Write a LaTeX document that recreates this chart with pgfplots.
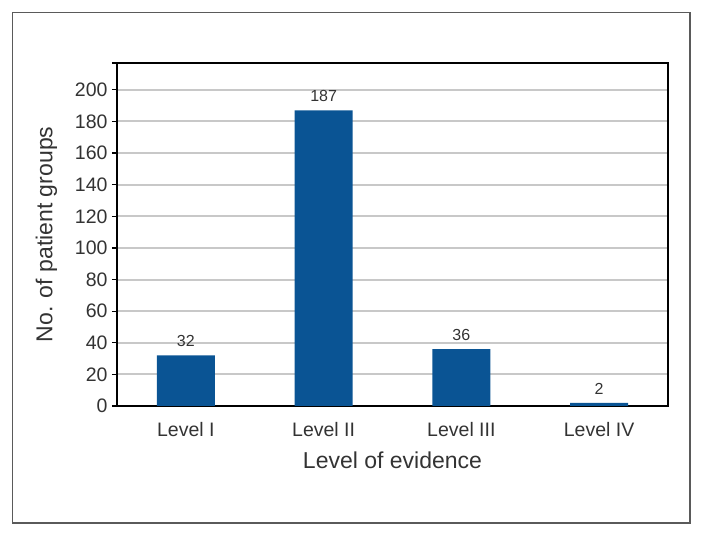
\documentclass[border=0pt]{standalone}
\usepackage{pgfplots}
\pgfplotsset{compat=1.18}
\usepackage{fontspec}
\setmainfont{Liberation Sans}
\definecolor{barblue}{HTML}{0A5494}
\definecolor{txt}{HTML}{333333}
\definecolor{gridgray}{HTML}{C8C8C8}
\definecolor{framegray}{HTML}{5A5A5A}
\begin{document}
\begin{tikzpicture}[x=1pt,y=1pt]
\useasboundingbox (0,0) rectangle (703,537);
\draw[framegray, line width=1.6pt] (12.5,14) rectangle (690,524.5);
\begin{axis}[
  at={(117pt,131pt)}, anchor=south west,
  scale only axis, width=551pt, height=343pt,
  xmin=-0.5, xmax=3.5, ymin=0, ymax=217,
  ybar, bar width=58pt,
  xtick={0,1,2,3},
  xticklabels={Level I, Level II, Level III, Level IV},
  x tick style={draw=none},
  ytick={0,20,...,200},
  extra y ticks={217}, extra y tick labels={},
  extra tick style={grid=none},
  tick align=outside, tick pos=left,
  major tick length=5pt,
  y tick style={black, line width=1.2pt},
  ymajorgrids, major grid style={gridgray, line width=2pt},
  axis line style={black, line width=1.4pt},
  /pgf/number format/assume math mode=true,
  tick label style={font=\fontsize{19.5}{22}\selectfont, text=txt},
  yticklabel style={xshift=-1pt},
  xticklabel style={yshift=-8pt},
  xlabel={Level of evidence},
  ylabel={No. of patient groups},
  label style={font=\fontsize{23}{26}\selectfont, text=txt},
  xlabel style={yshift=-8pt},
  ylabel style={yshift=1pt},
  nodes near coords,
  every node near coord/.append style={font=\fontsize{16}{19}\selectfont, text=txt, yshift=5pt},
]
\addplot[fill=barblue, draw=none] coordinates {(0,32) (1,187) (2,36) (3,2)};
\end{axis}
\end{tikzpicture}
\end{document}
